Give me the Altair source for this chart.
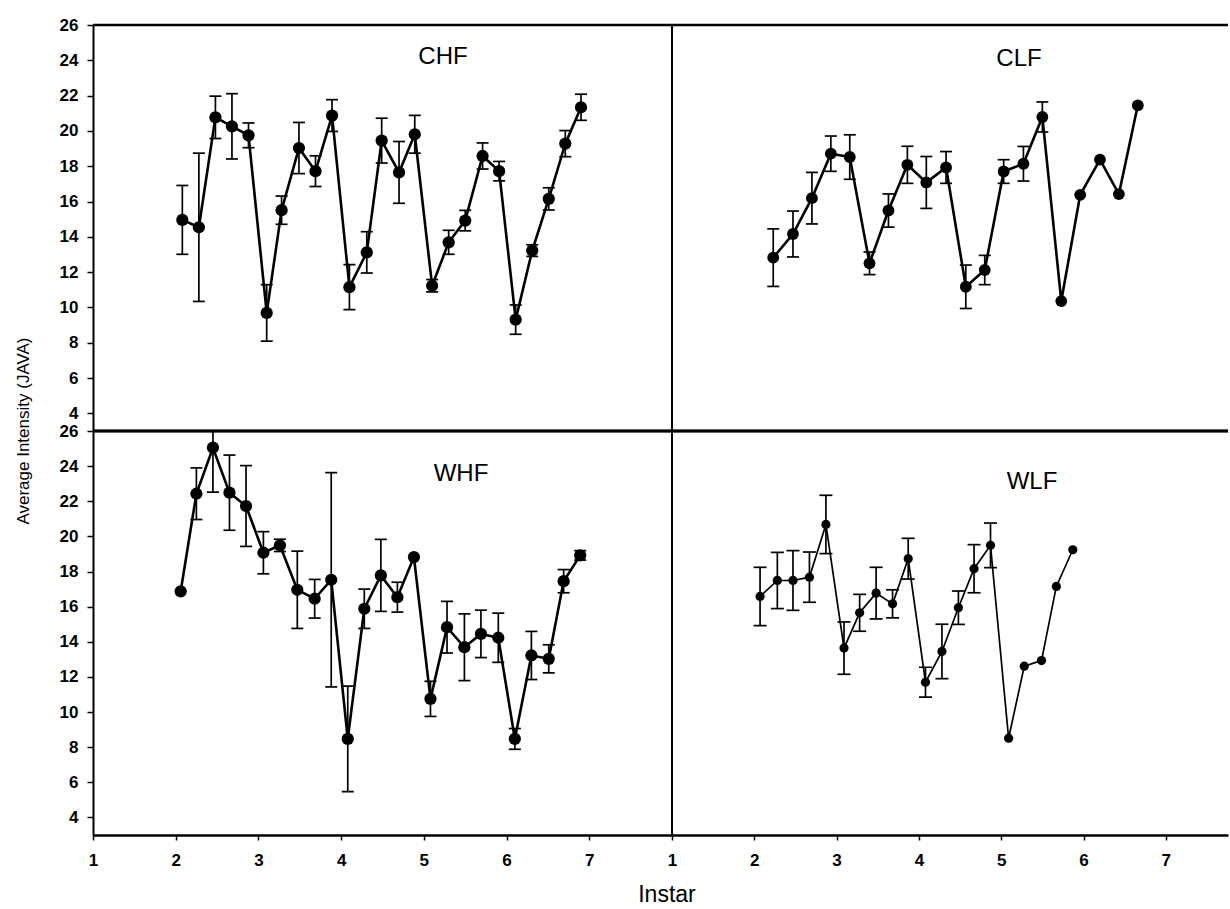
import altair as alt
import pandas as pd

FONT = "Liberation Sans"

# Shared tick values
INSTAR_TICKS = [1, 2, 3, 4, 5, 6, 7]
INTENSITY_TICKS = [4, 6, 8, 10, 12, 14, 16, 18, 20, 22, 24, 26]

# CHF
chf_instar = [2.08, 2.28, 2.48, 2.68, 2.88, 3.10, 3.28, 3.49, 3.69, 3.89, 4.10, 4.31, 4.49,
              4.70, 4.89, 5.10, 5.30, 5.50, 5.71, 5.91, 6.11, 6.31, 6.51, 6.71, 6.90]
chf_mean = [14.96, 14.54, 20.77, 20.26, 19.75, 9.69, 15.51, 19.03, 17.72, 20.87, 11.15, 13.12, 19.45,
            17.65, 19.81, 11.23, 13.69, 14.92, 18.58, 17.72, 9.31, 13.22, 16.15, 19.28, 21.34]
chf_se = [1.95, 4.2, 1.2, 1.85, 0.7, 1.6, 0.8, 1.45, 0.87, 0.9, 1.27, 1.17, 1.27,
          1.75, 1.07, 0.35, 0.68, 0.58, 0.74, 0.55, 0.83, 0.33, 0.63, 0.74, 0.74]

# CLF
clf_instar = [2.23, 2.47, 2.70, 2.93, 3.16, 3.40, 3.63, 3.86, 4.09, 4.33,
              4.57, 4.80, 5.03, 5.27, 5.50, 5.73, 5.96, 6.20, 6.43, 6.66]
clf_mean = [12.82, 14.16, 16.19, 18.71, 18.52, 12.5, 15.49, 18.08, 17.08, 17.93,
            11.17, 12.12, 17.7, 18.14, 20.79, 10.36, 16.38, 18.37, 16.42, 21.45]
clf_se = [1.63, 1.3, 1.46, 1.0, 1.26, 0.64, 0.94, 1.05, 1.47, 0.9,
          1.23, 0.83, 0.67, 0.98, 0.85, None, None, None, None, None]

# WHF
whf_instar = [2.06, 2.25, 2.45, 2.65, 2.85, 3.06, 3.26, 3.47, 3.68, 3.88, 4.08, 4.28, 4.48,
              4.68, 4.88, 5.08, 5.28, 5.49, 5.69, 5.90, 6.10, 6.30, 6.51, 6.69, 6.89]
whf_mean = [16.87, 22.43, 25.05, 22.49, 21.73, 19.07, 19.49, 16.96, 16.45, 17.53, 8.47, 15.88, 17.78,
            16.54, 18.82, 10.75, 14.83, 13.69, 14.45, 14.23, 8.47, 13.22, 13.03, 17.45, 18.92]
whf_se = [None, 1.47, 2.53, 2.14, 2.3, 1.2, 0.35, 2.2, 1.1, 6.1, 3.0, 1.12, 2.05,
          0.85, None, 1.0, 1.47, 1.9, 1.35, 1.4, 0.59, 1.37, 0.8, 0.66, 0.27]

# WLF
wlf_instar = [2.07, 2.28, 2.47, 2.67, 2.87, 3.09, 3.28, 3.48, 3.68, 3.87,
              4.08, 4.28, 4.48, 4.67, 4.87, 5.09, 5.28, 5.49, 5.67, 5.87]
wlf_mean = [16.58, 17.49, 17.49, 17.68, 20.68, 13.64, 15.65, 16.77, 16.16, 18.73,
            11.7, 13.45, 15.94, 18.16, 19.49, 8.51, 12.61, 12.93, 17.15, 19.24]
wlf_se = [1.66, 1.6, 1.7, 1.43, 1.66, 1.49, 1.05, 1.47, 0.8, 1.16,
          0.85, 1.55, 0.95, 1.37, 1.27, None, None, None, None, None]

LEFT_W, RIGHT_W = 579, 556
TOP_H, BOTTOM_H = 406, 404


def frame(instar, mean, se):
    rows = []
    for x, m, e in zip(instar, mean, se):
        rows.append({
            "instar": x,
            "mean": m,
            "lo": m - e if e is not None else None,
            "hi": m + e if e is not None else None,
        })
    return pd.DataFrame(rows)


def y_axis():
    return alt.Axis(values=INTENSITY_TICKS, title=None, grid=False,
                    domainColor="black", domainWidth=2, tickColor="black",
                    tickWidth=1.5, tickSize=6, labelPadding=9,
                    labelFont=FONT, labelFontSize=17, labelFontWeight="bold",
                    labelColor="black")


def x_axis():
    return alt.Axis(values=INSTAR_TICKS, title=None, grid=False,
                    domainColor="black", domainWidth=2.5, tickColor="black",
                    tickWidth=1.5, tickSize=5, labelPadding=12,
                    labelFont=FONT, labelFontSize=17, labelFontWeight="bold",
                    labelColor="black", labelFlush=False)


def panel(instar, mean, se, label, label_xy, width, height, x_max,
          show_x, show_y, dot_size, line_width, cap_width,
          bottom_edge, right_edge, extra=()):
    df = frame(instar, mean, se)
    xs = alt.Scale(domain=[1, x_max], nice=False, zero=False)
    ys = alt.Scale(domain=[3, 26], nice=False, zero=False)
    xa = x_axis() if show_x else None
    ya = y_axis() if show_y else None

    base = alt.Chart(df).encode(x=alt.X("instar:Q", scale=xs, axis=xa))
    with_err = base.transform_filter("isValid(datum.lo)")

    stems = with_err.mark_rule(color="black", strokeWidth=1.7, clip=True).encode(
        y=alt.Y("lo:Q", scale=ys, axis=ya), y2="hi:Q")
    caps_lo = with_err.mark_tick(orient="horizontal", size=cap_width, thickness=1.7,
                                 color="black", opacity=1, clip=True).encode(
        y=alt.Y("lo:Q", scale=ys, axis=ya))
    caps_hi = with_err.mark_tick(orient="horizontal", size=cap_width, thickness=1.7,
                                 color="black", opacity=1, clip=True).encode(
        y=alt.Y("hi:Q", scale=ys, axis=ya))
    line = base.mark_line(color="black", strokeWidth=line_width).encode(
        y=alt.Y("mean:Q", scale=ys, axis=ya))
    dots = base.mark_circle(color="black", opacity=1, size=dot_size).encode(
        y=alt.Y("mean:Q", scale=ys, axis=ya))

    one = alt.Chart(pd.DataFrame({"k": [0]}))
    layers = [
        one.mark_rule(color="black", strokeWidth=2.5).encode(
            x=alt.value(0), x2=alt.value(width), y=alt.value(0)),
    ]
    if bottom_edge:
        layers.append(one.mark_rule(color="black", strokeWidth=3).encode(
            x=alt.value(0), x2=alt.value(width), y=alt.value(height)))
    if right_edge:
        layers.append(one.mark_rule(color="black", strokeWidth=2).encode(
            x=alt.value(width), y=alt.value(0), y2=alt.value(height)))

    title = alt.Chart(pd.DataFrame({"t": [label]})).mark_text(
        font=FONT, fontSize=24, color="black", align="center", baseline="middle").encode(
        x=alt.value(label_xy[0]), y=alt.value(label_xy[1]), text="t:N")

    layers += [stems, caps_lo, caps_hi, line, dots, title]
    for text, tx, ty, size, angle in extra:
        layers.append(alt.Chart(pd.DataFrame({"t": [text]})).mark_text(
            font=FONT, fontSize=size, color="black", align="center",
            baseline="middle", angle=angle).encode(
            x=alt.value(tx), y=alt.value(ty), text="t:N"))

    return alt.layer(*layers).properties(width=width, height=height)


top_left = panel(chf_instar, chf_mean, chf_se, "CHF", (350, 32), LEFT_W, TOP_H, 8,
                 False, True, 150, 2.6, 12, True, True,
                 extra=[("Average Intensity (JAVA)", -69, TOP_H, 17, 270)])
top_right = panel(clf_instar, clf_mean, clf_se, "CLF", (347, 34), RIGHT_W, TOP_H,
                  1 + RIGHT_W / 82.3, False, False, 140, 2.6, 12, True, False)
bottom_left = panel(whf_instar, whf_mean, whf_se, "WHF", (368, 43), LEFT_W, BOTTOM_H, 8,
                    True, True, 150, 2.6, 12, False, True,
                    extra=[("Instar", 574, BOTTOM_H + 60, 23, 0)])
bottom_right = panel(wlf_instar, wlf_mean, wlf_se, "WLF", (360, 51), RIGHT_W, BOTTOM_H,
                     1 + RIGHT_W / 82.3, True, False, 85, 1.7, 13, False, False)

chart = alt.concat(
    top_left, top_right, bottom_left, bottom_right,
    columns=2, spacing=0, bounds="flush",
).properties(
    padding={"left": 15, "top": 16, "right": 0, "bottom": 0},
    background="white",
).configure_view(strokeOpacity=0)

chart.save("out.html", embed_options={"renderer": "svg", "actions": False})
